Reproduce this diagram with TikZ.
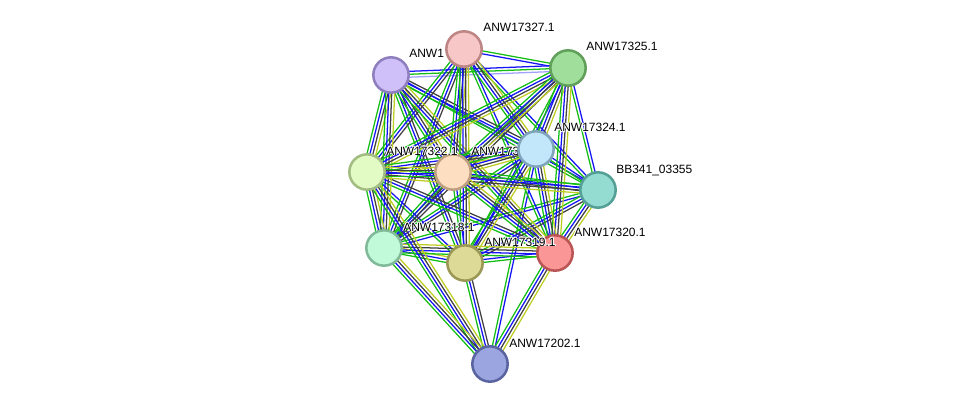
\documentclass[tikz,border=0pt]{standalone}
\usepackage{fontspec}
\setmainfont{Liberation Sans}
\usetikzlibrary{calc, backgrounds}
\definecolor{stgreen}{RGB}{20,190,20}
\definecolor{stblue}{RGB}{20,20,245}
\definecolor{styel}{RGB}{190,205,35}
\definecolor{stgray}{RGB}{65,65,65}
\tikzset{
  protein/.style={
    circle,
    line width=1.9pt,
    minimum size=26.5pt,
    inner sep=0pt
  },
  lbl/.style={font=\fontsize{9}{10}\selectfont, anchor=base west, inner sep=0pt},
  link/.style={line width=0.95pt}
}
% one bundle of parallel lines, one per evidence colour
\newcommand{\bundle}[3]{%
  \foreach \col [count=\k] in {#3} {\xdef\nlines{\k}}%
  \foreach \col [count=\k] in {#3} {%
    \pgfmathsetmacro{\off}{(\k-(\nlines+1)/2)*2.2}%
    \draw[link, draw=\col] ($(#1)!\off pt!90:(#2)$) -- ($(#2)!\off pt!-90:(#1)$);
  }%
}
\newcommand{\fullbundle}[2]{\bundle{#1}{#2}{stgreen,stblue,stgray,styel}}
% white outline behind a label
\newcommand{\halo}[1]{%
  \makebox[0pt][l]{\color{white}%
    \foreach \hx/\hy in {-0.7/0,0.7/0,0/-0.7,0/0.7,-0.5/-0.5,0.5/0.5,-0.5/0.5,0.5/-0.5}{%
      \makebox[0pt][l]{\hspace*{\hx pt}\raisebox{\hy pt}{#1}}}}%
  #1}

\begin{document}
\begin{tikzpicture}[x=0.75pt, y=-0.75pt]
  \useasboundingbox (0,0) rectangle (975,410);

  \node[protein, fill={rgb,255:red,208;green,192;blue,250}, draw={rgb,255:red,143;green,127;blue,190}] (n1) at (391,75) {};
  \node[lbl] (l1) at ([shift={(18,-17)}]n1.center) {\halo{ANW1}};
  \node[protein, fill={rgb,255:red,254;green,222;blue,192}, draw={rgb,255:red,190;green,160;blue,128}] (n7) at (453,172) {};
  \node[lbl] (l7) at ([shift={(18,-17)}]n7.center) {\halo{ANW173}};
  \node[protein, fill={rgb,255:red,247;green,198;blue,198}, draw={rgb,255:red,190;green,133;blue,133}] (n2) at (464,49) {};
  \node[lbl] (l2) at ([shift={(19,-17)}]n2.center) {\halo{ANW17327.1}};
  \node[protein, fill={rgb,255:red,160;green,222;blue,155}, draw={rgb,255:red,96;green,160;blue,90}] (n3) at (568,68) {};
  \node[lbl] (l3) at ([shift={(18,-17)}]n3.center) {\halo{ANW17325.1}};
  \node[protein, fill={rgb,255:red,194;green,230;blue,250}, draw={rgb,255:red,128;green,165;blue,186}] (n4) at (536,149) {};
  \node[lbl] (l4) at ([shift={(18,-17)}]n4.center) {\halo{ANW17324.1}};
  \node[protein, fill={rgb,255:red,148;green,220;blue,210}, draw={rgb,255:red,85;green,160;blue,150}] (n5) at (598,190) {};
  \node[lbl] (l5) at ([shift={(18,-17)}]n5.center) {\halo{BB341\_03355}};
  \node[protein, fill={rgb,255:red,226;green,250;blue,195}, draw={rgb,255:red,162;green,188;blue,130}] (n6) at (367,172) {};
  \node[lbl] (l6) at ([shift={(19,-17)}]n6.center) {\halo{ANW17322.1}};
  \node[protein, fill={rgb,255:red,250;green,150;blue,150}, draw={rgb,255:red,187;green,85;blue,85}] (n10) at (555,253) {};
  \node[lbl] (l10) at ([shift={(19,-17)}]n10.center) {\halo{ANW17320.1}};
  \node[protein, fill={rgb,255:red,192;green,250;blue,216}, draw={rgb,255:red,128;green,186;blue,152}] (n8) at (384,248) {};
  \node[lbl] (l8) at ([shift={(19,-17)}]n8.center) {\halo{ANW17318.1}};
  \node[protein, fill={rgb,255:red,220;green,218;blue,150}, draw={rgb,255:red,155;green,152;blue,86}] (n9) at (465,263) {};
  \node[lbl] (l9) at ([shift={(19,-17)}]n9.center) {\halo{ANW17319.1}};
  \node[protein, fill={rgb,255:red,155;green,165;blue,224}, draw={rgb,255:red,90;green,100;blue,160}] (n11) at (490,364) {};
  \node[lbl] (l11) at ([shift={(19,-17)}]n11.center) {\halo{ANW17202.1}};

  \begin{scope}[on background layer]
    \bundle{n1}{n3}{stblue!40,stgreen,stblue}
    \bundle{n2}{n3}{stblue,stgreen}
    \bundle{n3}{n5}{stgreen,stblue}
    \bundle{n8}{n9}{stgreen,stblue,styel}
    \bundle{n9}{n10}{stgreen,stblue}
    \bundle{n9}{n11}{stgreen,stblue,stgray}
    \bundle{n4}{n11}{stgreen,stblue}
    \foreach \a/\b in {n1/n5, n2/n5, n4/n5, n5/n8, n6/n9, n7/n9, n3/n9, n2/n10}
      {\bundle{\a}{\b}{stgreen,stblue}}
    \foreach \a/\b in {n1/n4, n1/n9, n2/n6, n2/n8, n3/n8, n4/n8, n5/n7, n5/n9, n7/n8, n6/n10}
      {\bundle{\a}{\b}{stgreen,stblue,stgray}}
    \foreach \a/\b in {n1/n6, n1/n7, n1/n8, n1/n10,
                       n2/n4, n2/n7, n2/n9,
                       n3/n4, n3/n6, n3/n7, n3/n10,
                       n4/n6, n4/n7, n4/n9, n4/n10,
                       n5/n6, n5/n10,
                       n6/n7, n6/n8, n7/n10, n8/n10,
                       n6/n11, n8/n11, n10/n11}
      {\fullbundle{\a}{\b}}
  \end{scope}
\end{tikzpicture}
\end{document}
